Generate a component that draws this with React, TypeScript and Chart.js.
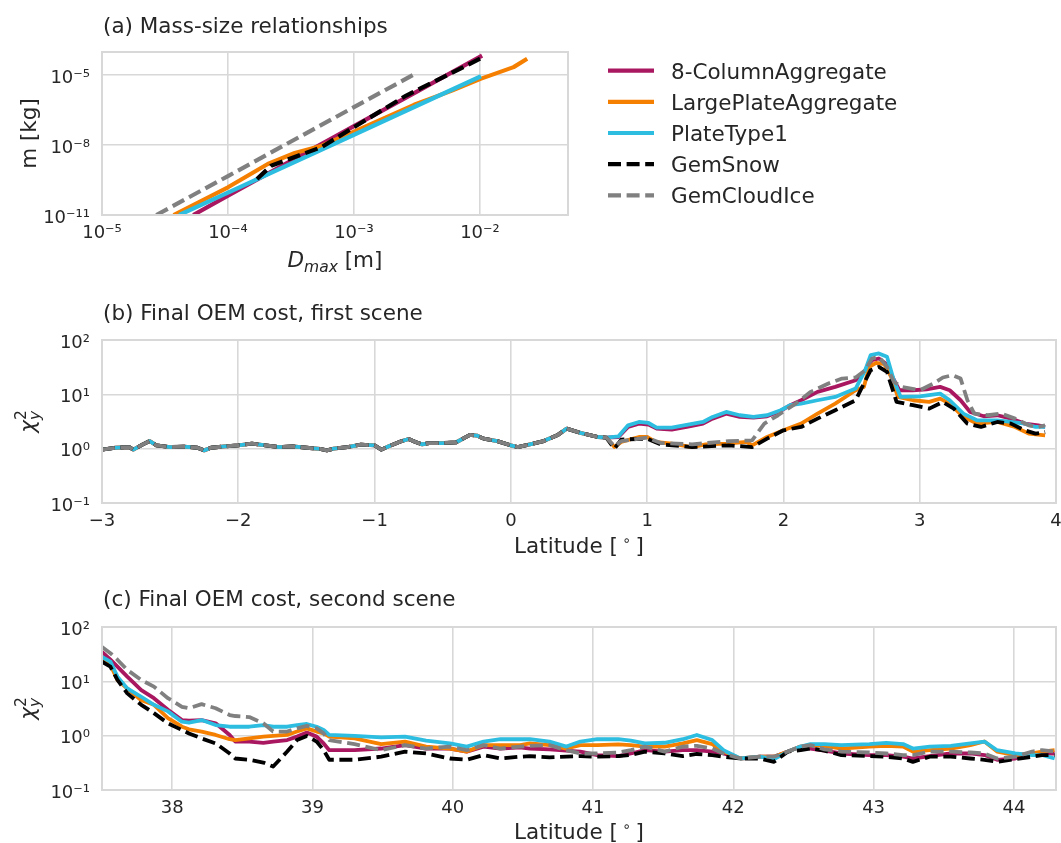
import React, { useEffect, useRef } from 'react';
import { Chart, registerables } from 'chart.js';

Chart.register(...registerables);

const FONT = '"DejaVu Sans", "Liberation Sans", Arial, sans-serif';
const INK = '#262626';
const GRID = '#d8d8d8';

// ---------- series (shared by all panels) ----------
const seriesNames = ['8-ColumnAggregate', 'LargePlateAggregate', 'PlateType1', 'GemSnow', 'GemCloudIce'];
const seriesColors = ['#a8175f', '#f57f00', '#2cbde0', '#000000', '#808080'];
const seriesDashed = [false, false, false, true, true];

// ---------- (a) mass-size relationships ----------
const dmax8Col = [5.3e-5, 1e-4, 3.16e-4, 1e-3, 3.16e-3, 1.04e-2];
const mass8Col = [1e-11, 6.8e-11, 2.1e-9, 6.5e-8, 2.0e-6, 7.0e-5];
const dmaxLargePlate = [3.7e-5, 1e-4, 2.07e-4, 3.39e-4, 5.55e-4, 1e-3, 3e-3, 6e-3, 1.01e-2, 1.85e-2, 2.37e-2];
const massLargePlate = [1e-11, 1.55e-10, 1.55e-9, 4.6e-9, 9.5e-9, 3.8e-8, 5.4e-7, 2.2e-6, 7.0e-6, 2.24e-5, 5.1e-5];
const dmaxPlate1 = [4.1e-5, 1e-4, 1e-3, 1.02e-2];
const massPlate1 = [1e-11, 9.1e-11, 2.8e-8, 9.1e-6];
const dmaxGemSnow = [1.7e-4, 2.2e-4, 3.6e-4, 5.5e-4, 1e-3, 2.6e-3, 1.02e-2];
const massGemSnow = [3.5e-10, 1.3e-9, 3.5e-9, 8.1e-9, 5.9e-8, 1.35e-6, 5.4e-5];
const dmaxGemCloudIce = [2.7e-5, 1e-4, 1e-3, 3.16e-3];
const massGemCloudIce = [1e-11, 4.7e-10, 4.3e-7, 1.27e-5];

const xTicksA = [1e-5, 1e-4, 1e-3, 1e-2];
const xTickLabelsA = ['10⁻⁵', '10⁻⁴', '10⁻³', '10⁻²'];
const yTicksA = [1e-11, 1e-8, 1e-5];
const yTickLabelsA = ['10⁻¹¹', '10⁻⁸', '10⁻⁵'];

// ---------- (b) final OEM cost, first scene ----------
const latBShared = [-3.0, -2.9, -2.8, -2.77, -2.7, -2.65, -2.6, -2.5, -2.4, -2.3, -2.25, -2.2, -2.1, -2.0, -1.9, -1.8, -1.7, -1.6, -1.5, -1.4, -1.35, -1.3, -1.2, -1.1, -1.0, -0.95, -0.9, -0.8, -0.75, -0.7, -0.65, -0.6, -0.5, -0.4, -0.3, -0.25, -0.2, -0.1, 0.0, 0.05, 0.14, 0.24, 0.34, 0.41, 0.51, 0.64, 0.7];
const chiBShared = [0.96, 1.04, 1.07, 0.96, 1.2, 1.38, 1.15, 1.07, 1.09, 1.04, 0.93, 1.04, 1.1, 1.15, 1.24, 1.15, 1.07, 1.1, 1.04, 0.99, 0.93, 1.0, 1.07, 1.19, 1.15, 0.96, 1.1, 1.38, 1.51, 1.33, 1.2, 1.27, 1.27, 1.31, 1.79, 1.74, 1.53, 1.38, 1.15, 1.07, 1.2, 1.38, 1.76, 2.34, 1.95, 1.64, 1.6];

const latB8Col = [0.79, 0.86, 0.94, 1.01, 1.07, 1.18, 1.31, 1.41, 1.48, 1.58, 1.68, 1.78, 1.88, 1.98, 2.05, 2.13, 2.25, 2.38, 2.53, 2.6, 2.65, 2.7, 2.75, 2.8, 2.85, 2.95, 3.05, 3.15, 3.22, 3.3, 3.37, 3.47, 3.57, 3.67, 3.77, 3.87, 3.92];
const chiB8Col = [1.64, 2.51, 2.89, 2.77, 2.34, 2.24, 2.58, 2.89, 3.57, 4.42, 3.84, 3.73, 3.95, 4.95, 6.3, 7.78, 11.1, 13.7, 18.2, 27.8, 42.5, 45.7, 36.9, 21, 11.9, 11.9, 12.3, 13.7, 11.9, 7.78, 4.74, 3.95, 4.12, 3.57, 2.89, 2.69, 2.51];
const latBLargePlate = [0.76, 0.81, 0.94, 1.0, 1.06, 1.18, 1.33, 1.43, 1.58, 1.73, 1.77, 1.88, 2.0, 2.13, 2.25, 2.38, 2.53, 2.59, 2.63, 2.68, 2.74, 2.79, 2.84, 2.95, 3.07, 3.15, 3.22, 3.32, 3.42, 3.57, 3.7, 3.8, 3.92];
const chiBLargePlate = [1.07, 1.33, 1.64, 1.64, 1.33, 1.24, 1.07, 1.2, 1.24, 1.33, 1.15, 1.64, 2.18, 2.89, 4.42, 6.76, 11.9, 13.7, 32, 38, 35.9, 21, 8.97, 7.78, 7.25, 8.36, 6.76, 3.84, 2.89, 3.1, 2.51, 1.89, 1.76];
const latBPlate1 = [0.79, 0.86, 0.94, 1.01, 1.07, 1.18, 1.31, 1.41, 1.48, 1.58, 1.68, 1.78, 1.88, 1.98, 2.05, 2.13, 2.25, 2.38, 2.53, 2.6, 2.64, 2.7, 2.76, 2.81, 2.86, 3.0, 3.15, 3.22, 3.32, 3.42, 3.57, 3.67, 3.77, 3.85, 3.92];
const chiBPlate1 = [1.69, 2.69, 3.1, 2.97, 2.44, 2.44, 2.81, 3.1, 3.84, 4.74, 4.12, 3.84, 4.12, 5.09, 6.3, 6.76, 7.78, 8.97, 12.8, 27.8, 52.6, 56.5, 49, 18.2, 8.97, 9.2, 10.3, 7.78, 4.42, 3.33, 3.33, 3.1, 2.89, 2.51, 2.51];
const latBGemSnow = [0.76, 0.81, 1.0, 1.1, 1.33, 1.6, 1.77, 1.88, 2.0, 2.13, 2.25, 2.38, 2.53, 2.59, 2.64, 2.7, 2.76, 2.83, 2.95, 3.07, 3.17, 3.25, 3.35, 3.45, 3.57, 3.67, 3.77, 3.85, 3.92];
const chiBGemSnow = [1.0, 1.47, 1.53, 1.2, 1.07, 1.15, 1.07, 1.53, 2.18, 2.51, 3.57, 5.09, 7.78, 15.8, 27.8, 32, 25.9, 7.25, 6.3, 5.46, 7.25, 5.46, 2.89, 2.51, 3.1, 2.89, 2.18, 1.89, 2.03];
const latBGemCloudIce = [0.76, 0.81, 1.0, 1.1, 1.33, 1.6, 1.77, 1.86, 1.96, 2.09, 2.2, 2.33, 2.43, 2.53, 2.6, 2.65, 2.7, 2.76, 2.81, 2.87, 3.0, 3.1, 3.17, 3.24, 3.3, 3.35, 3.4, 3.5, 3.6, 3.7, 3.8, 3.87, 3.92];
const chiBGemCloudIce = [1.1, 1.38, 1.6, 1.27, 1.2, 1.38, 1.42, 2.89, 4.12, 6.76, 11.1, 15.8, 19.5, 20.4, 27.8, 45.7, 49, 32, 17, 13.7, 11.9, 15.8, 20.4, 22.5, 19.5, 7.78, 4.42, 4.12, 4.42, 3.57, 2.69, 2.51, 2.69];

const xTicksB = [-3, -2, -1, 0, 1, 2, 3, 4];
const xTickLabelsB = ['−3', '−2', '−1', '0', '1', '2', '3', '4'];
const yTicksChi = [0.1, 1, 10, 100];
const yTickLabelsChi = ['10⁻¹', '10⁰', '10¹', '10²'];

// ---------- (c) final OEM cost, second scene ----------
const latC = [37.5, 37.56, 37.61, 37.68, 37.78, 37.87, 37.97, 38.07, 38.12, 38.21, 38.31, 38.41, 38.45, 38.55, 38.65, 38.72, 38.82, 38.89, 38.96, 39.03, 39.08, 39.12, 39.3, 39.49, 39.66, 39.81, 39.98, 40.1, 40.22, 40.34, 40.48, 40.55, 40.69, 40.81, 40.91, 41.03, 41.18, 41.27, 41.37, 41.51, 41.64, 41.74, 41.85, 41.93, 42.05, 42.19, 42.29, 42.39, 42.48, 42.55, 42.65, 42.77, 42.97, 43.09, 43.21, 43.28, 43.4, 43.55, 43.69, 43.79, 43.88, 44.01, 44.13, 44.2, 44.29];
const chiC8Col = [35, 25, 18.6, 12.2, 6.9, 4.9, 3.0, 1.94, 1.89, 1.94, 1.69, 1.03, 0.78, 0.78, 0.74, 0.78, 0.83, 0.96, 1.14, 0.96, 0.72, 0.54, 0.54, 0.58, 0.67, 0.58, 0.58, 0.51, 0.63, 0.58, 0.61, 0.58, 0.56, 0.53, 0.51, 0.44, 0.42, 0.47, 0.54, 0.51, 0.54, 0.54, 0.51, 0.47, 0.38, 0.41, 0.41, 0.51, 0.63, 0.58, 0.53, 0.47, 0.44, 0.44, 0.41, 0.38, 0.42, 0.47, 0.47, 0.44, 0.36, 0.38, 0.47, 0.47, 0.47];
const chiCLargePlate = [25, 20, 10.6, 7.4, 4.5, 3.7, 2.1, 1.46, 1.31, 1.19, 1.03, 0.86, 0.83, 0.89, 0.96, 0.99, 1.03, 1.19, 1.36, 1.19, 1.1, 0.96, 0.89, 0.7, 0.78, 0.63, 0.58, 0.51, 0.67, 0.67, 0.67, 0.72, 0.67, 0.58, 0.67, 0.67, 0.69, 0.67, 0.63, 0.63, 0.72, 0.83, 0.7, 0.51, 0.38, 0.41, 0.41, 0.51, 0.63, 0.67, 0.65, 0.58, 0.63, 0.65, 0.63, 0.51, 0.54, 0.58, 0.67, 0.78, 0.51, 0.44, 0.47, 0.51, 0.54];
const chiCPlate1 = [28, 23, 12.2, 7.4, 5.2, 3.7, 2.8, 1.81, 1.73, 1.94, 1.57, 1.46, 1.46, 1.46, 1.57, 1.46, 1.46, 1.57, 1.64, 1.46, 1.27, 1.03, 0.99, 0.93, 0.96, 0.81, 0.72, 0.63, 0.78, 0.86, 0.86, 0.86, 0.78, 0.63, 0.78, 0.86, 0.86, 0.81, 0.72, 0.74, 0.86, 1.03, 0.83, 0.54, 0.38, 0.41, 0.37, 0.51, 0.63, 0.7, 0.7, 0.67, 0.7, 0.74, 0.7, 0.58, 0.63, 0.65, 0.72, 0.78, 0.54, 0.47, 0.44, 0.44, 0.38];
const chiCGemSnow = [23, 18.6, 10.6, 6.0, 3.7, 2.6, 1.69, 1.27, 1.1, 0.89, 0.72, 0.47, 0.38, 0.36, 0.32, 0.27, 0.51, 0.83, 0.99, 0.78, 0.54, 0.36, 0.36, 0.41, 0.51, 0.47, 0.38, 0.36, 0.44, 0.38, 0.41, 0.42, 0.4, 0.41, 0.42, 0.41, 0.42, 0.44, 0.51, 0.47, 0.42, 0.46, 0.44, 0.41, 0.38, 0.38, 0.33, 0.51, 0.54, 0.58, 0.53, 0.44, 0.42, 0.41, 0.38, 0.33, 0.41, 0.41, 0.38, 0.36, 0.33, 0.37, 0.41, 0.44, 0.44];
const chiCGemCloudIce = [43, 33, 25, 16.2, 10.6, 8.0, 4.9, 3.4, 3.2, 3.8, 3.2, 2.4, 2.3, 2.2, 1.69, 1.19, 1.19, 1.36, 1.51, 1.36, 1.1, 0.83, 0.7, 0.54, 0.67, 0.58, 0.63, 0.54, 0.67, 0.58, 0.63, 0.65, 0.67, 0.54, 0.47, 0.47, 0.49, 0.54, 0.63, 0.51, 0.63, 0.65, 0.58, 0.47, 0.38, 0.41, 0.41, 0.51, 0.63, 0.67, 0.56, 0.51, 0.49, 0.47, 0.44, 0.44, 0.51, 0.51, 0.49, 0.47, 0.38, 0.41, 0.51, 0.54, 0.51];

const xTicksC = [38, 39, 40, 41, 42, 43, 44];
const xTickLabelsC = ['38', '39', '40', '41', '42', '43', '44'];

// ---------- rich text helpers ----------
type Seg = { t: string; size: number; italic?: boolean; dy?: number; hold?: boolean };

const TEXT_SIZE = 21.5;
const SMALL_SIZE = 15.5;

function segFont(s: Seg) {
  return `${s.italic ? 'italic ' : ''}${s.size}px ${FONT}`;
}

function drawRich(ctx: CanvasRenderingContext2D, segs: Seg[], x: number, y: number, rotate: boolean) {
  const xs: number[] = [];
  let cursor = 0;
  let held = 0;
  for (const s of segs) {
    ctx.font = segFont(s);
    const w = ctx.measureText(s.t).width;
    xs.push(cursor);
    if (s.hold) held = Math.max(held, w);
    else {
      cursor += Math.max(held, w);
      held = 0;
    }
  }
  const total = cursor + held;
  ctx.save();
  ctx.translate(x, y);
  if (rotate) ctx.rotate(-Math.PI / 2);
  ctx.textAlign = 'left';
  ctx.textBaseline = 'alphabetic';
  ctx.fillStyle = INK;
  segs.forEach((s, i) => {
    ctx.font = segFont(s);
    ctx.fillText(s.t, xs[i] - total / 2, s.dy ?? 0);
  });
  ctx.restore();
}

const panelTextPlugin = {
  id: 'panelText',
  afterDatasetsDraw(chart: any) {
    const { ctx, chartArea: ca } = chart;
    ctx.save();
    ctx.strokeStyle = GRID;
    ctx.lineWidth = 2;
    ctx.setLineDash([]);
    ctx.strokeRect(ca.left, ca.top, ca.right - ca.left, ca.bottom - ca.top);
    ctx.restore();
  },
  afterDraw(chart: any, _args: any, o: any) {
    const { ctx, chartArea: ca } = chart;
    ctx.save();
    ctx.fillStyle = INK;
    ctx.font = `${TEXT_SIZE}px ${FONT}`;
    ctx.textAlign = 'left';
    ctx.textBaseline = 'alphabetic';
    ctx.fillText(o.title, ca.left + 1, ca.top - o.titleGap);
    ctx.restore();
    drawRich(ctx, o.xTitle, (ca.left + ca.right) / 2, ca.bottom + o.xTitleGap, false);
    drawRich(ctx, o.yTitle, o.yTitleX, (ca.top + ca.bottom) / 2, true);
    if (o.legend) {
      const L = o.legend;
      chart.data.datasets.forEach((d: any, i: number) => {
        const y = ca.top + L.top + i * L.step;
        const x0 = ca.right + L.gap;
        ctx.save();
        ctx.strokeStyle = d.borderColor;
        ctx.lineWidth = d.borderWidth;
        ctx.lineCap = 'butt';
        ctx.setLineDash(d.borderDash || []);
        ctx.beginPath();
        ctx.moveTo(x0, y);
        ctx.lineTo(x0 + L.len, y);
        ctx.stroke();
        ctx.setLineDash([]);
        ctx.fillStyle = INK;
        ctx.font = `${TEXT_SIZE}px ${FONT}`;
        ctx.textAlign = 'left';
        ctx.textBaseline = 'alphabetic';
        ctx.fillText(d.label, x0 + L.len + L.textGap, y + 7.8);
        ctx.restore();
      });
    }
  },
};

function lineDataset(i: number, xs: number[], ys: number[], width: number) {
  return {
    label: seriesNames[i],
    data: xs.map((x, k) => ({ x, y: ys[k] })),
    borderColor: seriesColors[i],
    backgroundColor: seriesColors[i],
    borderWidth: width,
    borderDash: seriesDashed[i] ? [13, 5.6] : [],
    borderCapStyle: 'butt',
    borderJoinStyle: 'round',
    pointRadius: 0,
    pointHoverRadius: 0,
    fill: false,
    tension: 0,
    order: 5 - i,
  };
}

type AxisSpec = {
  xType: 'linear' | 'logarithmic';
  xMin: number;
  xMax: number;
  xTicks: number[];
  xLabels: string[];
  yMin: number;
  yMax: number;
  yTicks: number[];
  yLabels: string[];
  xAxisH: number;
};

function scalesFor(p: AxisSpec) {
  const tickFont = { family: FONT, size: 18 };
  return {
    x: {
      type: p.xType,
      min: p.xMin,
      max: p.xMax,
      bounds: 'data',
      grid: { color: GRID, lineWidth: 1.6, drawTicks: false },
      border: { display: false },
      ticks: {
        color: INK,
        font: tickFont,
        padding: 8,
        maxRotation: 0,
        minRotation: 0,
        autoSkip: false,
        callback: (_v: any, i: number) => p.xLabels[i],
      },
      afterBuildTicks: (s: any) => {
        s.ticks = p.xTicks.map((value) => ({ value }));
      },
      afterFit: (s: any) => {
        s.height = p.xAxisH;
        s.paddingLeft = 0;
        s.paddingRight = 0;
      },
    },
    y: {
      type: 'logarithmic',
      min: p.yMin,
      max: p.yMax,
      bounds: 'data',
      grid: { color: GRID, lineWidth: 1.6, drawTicks: false },
      border: { display: false },
      ticks: {
        color: INK,
        font: tickFont,
        padding: 12,
        labelOffset: 3,
        autoSkip: false,
        callback: (_v: any, i: number) => p.yLabels[i],
      },
      afterBuildTicks: (s: any) => {
        s.ticks = p.yTicks.map((value) => ({ value }));
      },
      afterFit: (s: any) => {
        s.width = 102;
        s.paddingTop = 0;
        s.paddingBottom = 0;
      },
    },
  };
}

const chiTitle: Seg[] = [
  { t: 'χ', size: TEXT_SIZE, italic: true },
  { t: '2', size: SMALL_SIZE, dy: -9, hold: true },
  { t: 'y', size: SMALL_SIZE, italic: true, dy: 5 },
];
const latTitle: Seg[] = [
  { t: 'Latitude [', size: TEXT_SIZE },
  { t: ' ∘ ', size: 14, dy: -8 },
  { t: ']', size: TEXT_SIZE },
];

function baseOptions(padTop: number, padRight: number, scales: any, text: any) {
  return {
    animation: false,
    responsive: false,
    devicePixelRatio: 1,
    events: [],
    layout: { padding: { top: padTop, right: padRight, bottom: 0, left: 0 } },
    scales,
    plugins: {
      legend: { display: false },
      tooltip: { enabled: false },
      panelText: text,
    },
  };
}

export default function App() {
  const refA = useRef<HTMLCanvasElement>(null);
  const refB = useRef<HTMLCanvasElement>(null);
  const refC = useRef<HTMLCanvasElement>(null);

  useEffect(() => {
    const wA = 4.2;
    const wBC = 3.8;
    const chartA = new Chart(refA.current as HTMLCanvasElement, {
      type: 'line',
      data: {
        datasets: [
          lineDataset(0, dmax8Col, mass8Col, wA),
          lineDataset(1, dmaxLargePlate, massLargePlate, wA),
          lineDataset(2, dmaxPlate1, massPlate1, wA),
          lineDataset(3, dmaxGemSnow, massGemSnow, wA),
          lineDataset(4, dmaxGemCloudIce, massGemCloudIce, wA),
        ] as any,
      },
      options: baseOptions(
        52,
        493,
        scalesFor({
          xType: 'logarithmic', xMin: 1e-5, xMax: 5e-2, xTicks: xTicksA, xLabels: xTickLabelsA,
          yMin: 1e-11, yMax: 1e-4, yTicks: yTicksA, yLabels: yTickLabelsA, xAxisH: 70,
        }),
        {
          title: '(a) Mass-size relationships',
          titleGap: 19,
          xTitle: [
            { t: 'D', size: TEXT_SIZE, italic: true },
            { t: 'max', size: SMALL_SIZE, italic: true, dy: 5 },
            { t: ' [m]', size: TEXT_SIZE },
          ],
          xTitleGap: 52,
          yTitle: [{ t: 'm [kg]', size: TEXT_SIZE }],
          yTitleX: 36,
          legend: { top: 18.7, step: 31.15, gap: 40, len: 46, textGap: 17 },
        }
      ) as any,
      plugins: [panelTextPlugin],
    });

    const chartB = new Chart(refB.current as HTMLCanvasElement, {
      type: 'line',
      data: {
        datasets: [
          lineDataset(0, [...latBShared, ...latB8Col], [...chiBShared, ...chiB8Col], wBC),
          lineDataset(1, [...latBShared, ...latBLargePlate], [...chiBShared, ...chiBLargePlate], wBC),
          lineDataset(2, [...latBShared, ...latBPlate1], [...chiBShared, ...chiBPlate1], wBC),
          lineDataset(3, [...latBShared, ...latBGemSnow], [...chiBShared, ...chiBGemSnow], wBC),
          lineDataset(4, [...latBShared, ...latBGemCloudIce], [...chiBShared, ...chiBGemCloudIce], wBC),
        ] as any,
      },
      options: baseOptions(
        55,
        5,
        scalesFor({
          xType: 'linear', xMin: -3, xMax: 4, xTicks: xTicksB, xLabels: xTickLabelsB,
          yMin: 0.1, yMax: 100, yTicks: yTicksChi, yLabels: yTickLabelsChi, xAxisH: 67,
        }),
        {
          title: '(b) Final OEM cost, first scene',
          titleGap: 20,
          xTitle: latTitle,
          xTitleGap: 50,
          yTitle: chiTitle,
          yTitleX: 35,
        }
      ) as any,
      plugins: [panelTextPlugin],
    });

    const chartC = new Chart(refC.current as HTMLCanvasElement, {
      type: 'line',
      data: {
        datasets: [
          lineDataset(0, latC, chiC8Col, wBC),
          lineDataset(1, latC, chiCLargePlate, wBC),
          lineDataset(2, latC, chiCPlate1, wBC),
          lineDataset(3, latC, chiCGemSnow, wBC),
          lineDataset(4, latC, chiCGemCloudIce, wBC),
        ] as any,
      },
      options: baseOptions(
        57,
        5,
        scalesFor({
          xType: 'linear', xMin: 37.5, xMax: 44.3, xTicks: xTicksC, xLabels: xTickLabelsC,
          yMin: 0.1, yMax: 100, yTicks: yTicksChi, yLabels: yTickLabelsChi, xAxisH: 53,
        }),
        {
          title: '(c) Final OEM cost, second scene',
          titleGap: 21,
          xTitle: latTitle,
          xTitleGap: 49,
          yTitle: chiTitle,
          yTitleX: 35,
        }
      ) as any,
      plugins: [panelTextPlugin],
    });

    return () => {
      chartA.destroy();
      chartB.destroy();
      chartC.destroy();
    };
  }, []);

  return (
    <div
      style={{
        position: 'absolute',
        left: 0,
        top: 0,
        width: 1061,
        height: 843,
        overflow: 'hidden',
        background: '#ffffff',
      }}
    >
      <canvas ref={refA} width={1061} height={285} style={{ position: 'absolute', left: 0, top: 0 }} />
      <canvas ref={refB} width={1061} height={285} style={{ position: 'absolute', left: 0, top: 285 }} />
      <canvas ref={refC} width={1061} height={273} style={{ position: 'absolute', left: 0, top: 570 }} />
    </div>
  );
}
